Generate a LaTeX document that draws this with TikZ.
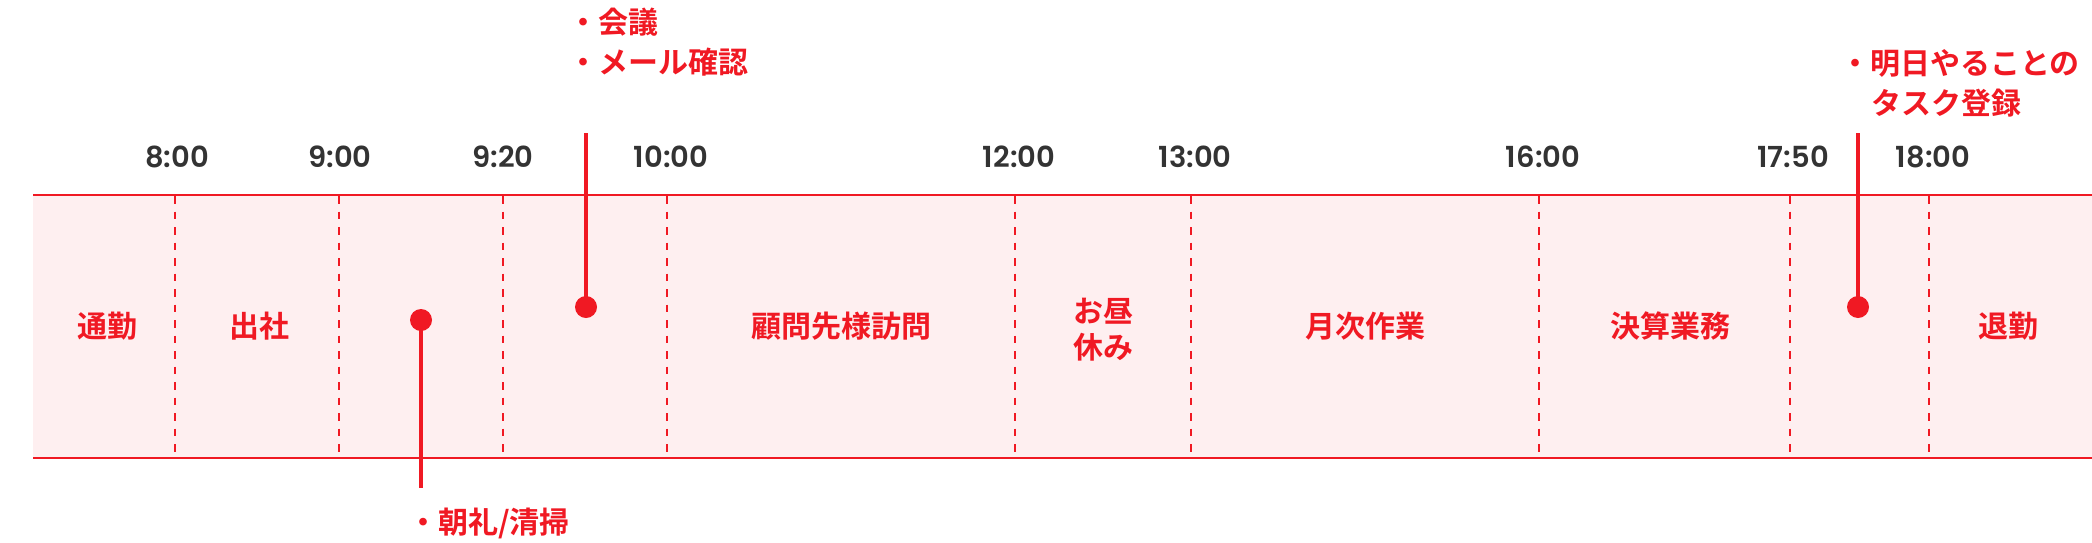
\documentclass[tikz,border=0pt]{standalone}
\usepackage{fontspec}
\newfontfamily\cjk{Noto Sans CJK JP}[BoldFont={* Bold}]
\newfontfamily\tfont{Poppins}[UprightFont={* SemiBold}]
\definecolor{tlred}{RGB}{240,25,35}
\definecolor{tlpink}{RGB}{254,239,240}
\definecolor{tlgray}{RGB}{51,51,51}
\begin{document}
\begin{tikzpicture}[x=1pt,y=-1pt,
  seglabel/.style={text=tlred, font=\cjk\bfseries\fontsize{30}{36}\selectfont, inner sep=0pt, anchor=base},
  timelabel/.style={text=tlgray, font=\tfont\fontsize{29}{34}\selectfont, inner sep=0pt, anchor=base},
  calllabel/.style={text=tlred, font=\cjk\bfseries\fontsize{30}{36}\selectfont, inner sep=0pt, anchor=base west},
  divider/.style={draw=tlred, line width=2pt, dash pattern=on 7.5pt off 8pt},
  bandedge/.style={draw=tlred, line width=2.5pt},
  stem/.style={draw=tlred, line width=4pt},
  pin/.style={circle, fill=tlred, minimum size=22pt, inner sep=0pt}]
\useasboundingbox (0,0) rectangle (2092,542);
% band
\fill[tlpink] (33,195) rectangle (2092,458);
\foreach \x in {175,339,503,667,1015,1191,1539,1790,1929}
  \draw[divider] (\x,196) -- (\x,457);
\draw[bandedge] (33,195) -- (2092,195);
\draw[bandedge] (33,458) -- (2092,458);
% time labels
\node[timelabel] (t0800) at (177,167.5) {8:00};
\node[timelabel] (t0900) at (340,167.5) {9:00};
\node[timelabel] (t0920) at (503,167.5) {9:20};
\node[timelabel] (t1000) at (671,167.5) {10:00};
\node[timelabel] (t1200) at (1019,167.5) {12:00};
\node[timelabel] (t1300) at (1195,167.5) {13:00};
\node[timelabel] (t1600) at (1543,167.5) {16:00};
\node[timelabel] (t1750) at (1793,167.5) {17:50};
\node[timelabel] (t1800) at (1933,167.5) {18:00};
% segment labels
\node[seglabel] (s1) at (107,337) {通勤};
\node[seglabel] (s2) at (259,337) {出社};
\node[seglabel] (s3) at (841,337) {顧問先様訪問};
\node[seglabel] (s4a) at (1103,322) {お昼};
\node[seglabel] (s4b) at (1103,358) {休み};
\node[seglabel] (s5) at (1365,337) {月次作業};
\node[seglabel] (s6) at (1670,337) {決算業務};
\node[seglabel] (s7) at (2008,337) {退勤};
% callouts
\node[pin] (p1) at (421,320) {};
\coordinate (e1) at (421,488);
\draw[stem] (p1.center) -- (e1);
\node[calllabel] (c1) at (408,533) {・朝礼/清掃};

\node[pin] (p2) at (586,307) {};
\coordinate (e2) at (586,133);
\draw[stem] (p2.center) -- (e2);
\node[calllabel] (c2a) at (568,33.5) {・会議};
\node[calllabel] (c2b) at (568,73) {・メール確認};

\node[pin] (p3) at (1858,307) {};
\coordinate (e3) at (1858,133);
\draw[stem] (p3.center) -- (e3);
\node[calllabel] (c3a) at (1840,74) {・明日やることの};
\node[calllabel] (c3b) at (1871,114) {タスク登録};
\end{tikzpicture}
\end{document}
